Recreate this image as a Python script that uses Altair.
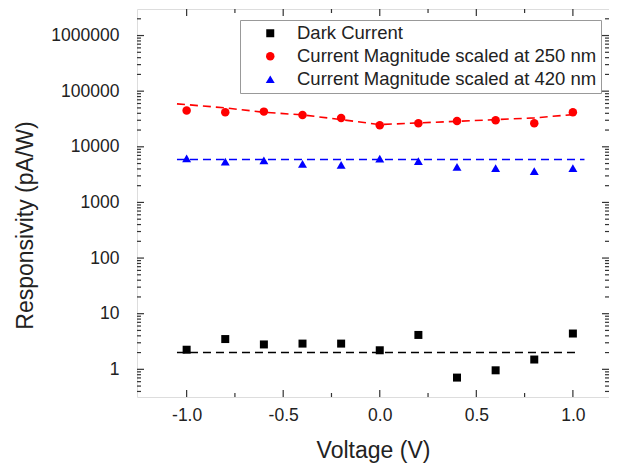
import altair as alt
import pandas as pd

# ---- data ----
voltage = [-1.0, -0.8, -0.6, -0.4, -0.2, 0.0, 0.2, 0.4, 0.6, 0.8, 1.0]
dark_current = [2.25, 3.5, 2.8, 2.9, 2.9, 2.2, 4.15, 0.71, 0.96, 1.5, 4.4]
mag_250 = [44800, 41700, 42900, 37300, 32900, 24400, 26400, 29000, 29900, 26400, 41700]
mag_420 = [6200, 5400, 5700, 4950, 4750, 6100, 5550, 4350, 4150, 3650, 4150]

series_names = ["Dark Current",
                "Current Magnitude scaled at 250 nm",
                "Current Magnitude scaled at 420 nm"]
series_colors = ["#000000", "#ff0000", "#0000ff"]
series_shapes = ["square", "circle", "triangle-up"]
series_sizes = [64, 80, 105]

fit_dark_v = [-1.05, 1.03]
fit_dark = [2.0, 2.0]
fit_420_v = [-1.05, 1.06]
fit_420 = [5900, 5900]
fit_250_v = [-1.05, -0.8, -0.6, -0.4, -0.2, 0.0, 0.2, 0.4, 0.6, 0.8, 1.0]
fit_250 = [59200, 50100, 41700, 37500, 30800, 25100, 26900, 28700, 30800, 33100, 37900]

x_ticks_major = [-1.0, -0.5, 0.0, 0.5, 1.0]
x_ticks_minor = [-0.75, -0.25, 0.25, 0.75]
y_ticks_major = [1, 10, 100, 1000, 10000, 100000, 1000000]
y_ticks_minor = [0.4, 0.5, 0.6, 0.7, 0.8, 0.9] + [
    m * d for d in [1, 10, 100, 1000, 10000, 100000] for m in range(2, 10)
] + [2000000]

x_domain = [-1.257, 1.187]
y_domain = [0.318, 3.0e6]

W, H = 472, 388
FONT = "Liberation Sans"
TEXT = "#222222"

# ---- tables ----
points = pd.DataFrame({
    "voltage": voltage * 3,
    "resp": dark_current + mag_250 + mag_420,
    "series": [series_names[0]] * len(voltage)
    + [series_names[1]] * len(voltage)
    + [series_names[2]] * len(voltage),
})

xs = alt.Scale(domain=x_domain, nice=False, zero=False)
ys = alt.Scale(type="log", domain=y_domain, nice=False)

x_axis = alt.Axis(
    values=x_ticks_major,
    labelExpr="datum.value < 0 ? '-' + format(-datum.value, '.1f') : format(datum.value, '.1f')",
    ticks=False, domain=False, grid=False,
    labelPadding=9, labelFontSize=17.5, labelFont=FONT, labelColor=TEXT,
    title="Voltage (V)", titleFontSize=23, titleFont=FONT, titleFontWeight="normal",
    titlePadding=16, titleColor=TEXT,
)
y_axis = alt.Axis(
    values=y_ticks_major, format="d",
    ticks=False, domain=False, grid=False,
    labelPadding=18, labelFontSize=17.5, labelFont=FONT, labelColor=TEXT,
    title="Responsivity (pA/W)", titleFontSize=23, titleFont=FONT, titleFontWeight="normal",
    titleColor=TEXT, titleX=-112, titleY=216, titleAngle=-90,
    titleAlign="center", titleBaseline="middle",
)


def X():
    return alt.X("voltage:Q", scale=xs, axis=x_axis)


def Y():
    return alt.Y("resp:Q", scale=ys, axis=y_axis)


legend = alt.Legend(
    title=None, orient="none", legendX=103, legendY=11,
    padding=4, strokeColor="#999999", fillColor="white",
    symbolOffset=17, labelOffset=17.5, rowPadding=4,
    labelFontSize=18.5, labelFont=FONT, labelColor=TEXT,
    labelLimit=0,
)


def fit_line(vs, rs, color):
    df = pd.DataFrame({"voltage": vs, "resp": rs})
    return alt.Chart(df).mark_line(
        strokeDash=[8, 5], strokeWidth=1.6, color=color
    ).encode(x=X(), y=Y())


lines = [
    fit_line(fit_dark_v, fit_dark, series_colors[0]),
    fit_line(fit_250_v, fit_250, series_colors[1]),
    fit_line(fit_420_v, fit_420, series_colors[2]),
]

pts = alt.Chart(points).mark_point(filled=True, opacity=1).encode(
    x=X(), y=Y(),
    color=alt.Color("series:N", scale=alt.Scale(domain=series_names, range=series_colors), legend=legend),
    shape=alt.Shape("series:N", scale=alt.Scale(domain=series_names, range=series_shapes), legend=legend),
    size=alt.Size("series:N", scale=alt.Scale(domain=series_names, range=series_sizes), legend=legend),
)

TICK_COLOR = "#333333"


def xticks(vals, length):
    df = pd.DataFrame({"voltage": vals})
    bottom = alt.Chart(df).mark_rule(color=TICK_COLOR, strokeWidth=1.2).encode(
        x=X(), y=alt.value(H), y2=alt.value(H - length))
    top = alt.Chart(df).mark_rule(color=TICK_COLOR, strokeWidth=1.2).encode(
        x=X(), y=alt.value(0), y2=alt.value(length))
    return [bottom, top]


def yticks(vals, length):
    df = pd.DataFrame({"resp": vals})
    left = alt.Chart(df).mark_rule(color=TICK_COLOR, strokeWidth=1.2).encode(
        y=Y(), x=alt.value(0), x2=alt.value(length))
    right = alt.Chart(df).mark_rule(color=TICK_COLOR, strokeWidth=1.2).encode(
        y=Y(), x=alt.value(W), x2=alt.value(W - length))
    return [left, right]


ticks = xticks(x_ticks_major, 7) + xticks(x_ticks_minor, 4) + \
    yticks(y_ticks_major, 7) + yticks(y_ticks_minor, 4)

chart = alt.layer(*lines, pts, *ticks).properties(
    width=W, height=H,
    autosize=alt.AutoSizeParams(type="none"),
    padding={"left": 129, "top": 1, "right": 0, "bottom": 72},
).configure_view(stroke="#333333", strokeWidth=1.5).configure(background="white")

chart.save("out.html", embed_options={"renderer": "svg", "actions": False})
